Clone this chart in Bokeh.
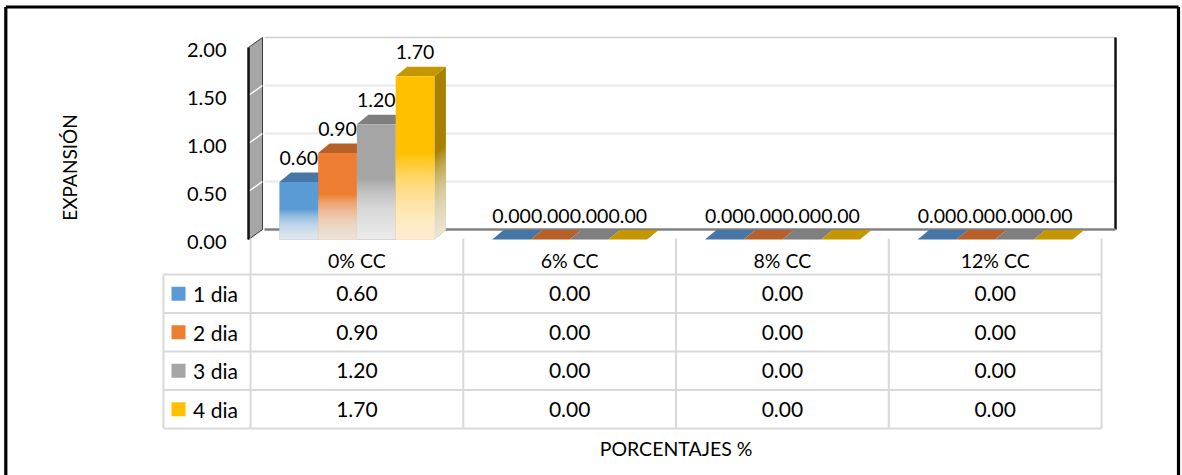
import math
from bokeh.plotting import figure
from bokeh.models import Range1d, ColumnDataSource
from bokeh.core.properties import value
from bokeh.embed import file_html
from bokeh.resources import INLINE

# ---------------- data ----------------
categories = ["0% CC", "6% CC", "8% CC", "12% CC"]
series_names = ["1 dia", "2 dia", "3 dia", "4 dia"]
dia_1 = [0.60, 0.00, 0.00, 0.00]
dia_2 = [0.90, 0.00, 0.00, 0.00]
dia_3 = [1.20, 0.00, 0.00, 0.00]
dia_4 = [1.70, 0.00, 0.00, 0.00]
y_ticks = [0.0, 0.5, 1.0, 1.5, 2.0]
y_title = "EXPANSIÓN"
x_title = "PORCENTAJES %"

series_values = [dia_1, dia_2, dia_3, dia_4]

# ---------------- style ----------------
front_colors = ["#5b9bd5", "#ed7d31", "#a5a5a5", "#ffc000"]
top_colors = ["#4676a6", "#b8602a", "#7f7f7f", "#c49600"]
side_colors = ["#3c6690", "#a0521f", "#6e6e6e", "#a88000"]
FONT = value("Lato")
TXT = "#000000"

W, H = 1182, 475
COL_PX = 212.75          # pixels per category column
VAL_PX = 96.0            # pixels per value unit
X0_PX = 356.4            # x of category 0 centre
Y0_PX = 239.0            # y of value 0 (front plane)
ROW_PX = 38.5            # table row height
ROW0_PX = 274.0          # y of first data row top

x_start = -X0_PX / COL_PX
x_end = (W - X0_PX) / COL_PX
y_top = Y0_PX / VAL_PX
y_bot = -(H - Y0_PX) / VAL_PX
t_top = -ROW0_PX / ROW_PX
t_bot = (H - ROW0_PX) / ROW_PX

DX = 14.0 / COL_PX       # wall depth
DY = 10.0 / VAL_PX
BDX = 11.5 / COL_PX      # bar depth
BDY = 9.5 / VAL_PX
BAR_W = 38.75 / COL_PX

p = figure(width=W, height=H, x_range=Range1d(x_start, x_end),
           y_range=Range1d(y_bot, y_top), output_backend="svg",
           toolbar_location=None, x_axis_location=None, y_axis_location=None,
           min_border=0, min_border_left=0, min_border_right=0,
           min_border_top=0, min_border_bottom=0)
p.extra_y_ranges = {"tbl": Range1d(start=t_bot, end=t_top)}
p.grid.visible = False
p.outline_line_color = None
p.background_fill_color = "white"
p.border_fill_color = "white"

# chart-area border (left, top, right; bottom lies outside the picture)
bx0 = x_start + 5.3 / COL_PX
bx1 = x_start + 1178.0 / COL_PX
by0 = y_top - 6.5 / VAL_PX
p.segment(x0=[bx0, bx0, bx1], x1=[bx0, bx1, bx1], y0=[y_bot, by0, by0], y1=[by0, by0, y_bot],
          line_color="black", line_width=3.2)

n_cat = len(categories)
left_edge = -0.5
right_edge = n_cat - 0.5
y_max = y_ticks[-1]

# ---------------- back wall ----------------
p.quad(left=[left_edge + DX], right=[right_edge + DX], bottom=[DY], top=[y_max + DY],
       fill_color="white", line_color=None)
grid_y = [t + DY for t in y_ticks[1:-1]]
p.segment(x0=[left_edge + DX] * len(grid_y), x1=[right_edge + DX] * len(grid_y),
          y0=grid_y, y1=grid_y, line_color="#e9e9e9", line_width=2)
p.segment(x0=[left_edge + DX], x1=[right_edge + DX], y0=[y_max + DY], y1=[y_max + DY],
          line_color="#cfcfcf", line_width=1.5)
p.segment(x0=[right_edge + DX], x1=[right_edge + DX], y0=[DY], y1=[y_max + DY],
          line_color="#111111", line_width=2.5)
p.segment(x0=[left_edge + DX], x1=[right_edge + DX], y0=[DY], y1=[DY],
          line_color="#808080", line_width=2.5)

# ---------------- side wall ----------------
wl = left_edge - 2.0 / COL_PX
p.patch(x=[wl, wl + DX, wl + DX, wl], y=[0, DY, y_max + DY, y_max],
        fill_color="#a6a6a6", line_color="#3a3a3a", line_width=1)
side_grid = y_ticks[1:-1]
p.segment(x0=[wl] * len(side_grid), x1=[wl + DX] * len(side_grid),
          y0=side_grid, y1=[t + DY for t in side_grid], line_color="white", line_width=1.5)
p.segment(x0=[wl], x1=[wl], y0=[0], y1=[y_max], line_color="#111111", line_width=2.5)

# ---------------- bars ----------------
xs, ys, fc, fa = [], [], [], []
NB = 40
alpha_layer = 1 - (1 - 0.86) ** (1.0 / NB)
for i in range(n_cat):
    for j, vals in enumerate(series_values):
        v = vals[i]
        c = i + (j - 1.5) * BAR_W
        l, r = c - BAR_W / 2, c + BAR_W / 2
        # side
        xs.append([r, r + BDX, r + BDX, r]); ys.append([0, BDY, v + BDY, v])
        fc.append(side_colors[j]); fa.append(1.0)
        # top
        xs.append([l, r, r + BDX, l + BDX]); ys.append([v, v, v + BDY, v + BDY])
        fc.append(top_colors[j]); fa.append(1.0)
        # front
        xs.append([l, r, r, l]); ys.append([0, 0, v, v])
        fc.append(front_colors[j]); fa.append(1.0)
        # fade: stacked translucent white layers on the lower half
        fh = 0.52 * v
        if v > 0:
            for k in range(NB):
                b1 = fh * (k + 1) / NB
                xs.append([l, r, r + BDX, r + BDX, r, l]); ys.append([0, 0, BDY, b1 + BDY, b1, b1])
                fc.append("white"); fa.append(alpha_layer)
bars_src = ColumnDataSource(dict(xs=xs, ys=ys, fc=fc, fa=fa))
p.patches(xs="xs", ys="ys", fill_color="fc", fill_alpha="fa", line_color=None, source=bars_src)

# data labels
lx, ly, lt = [], [], []
for i in range(n_cat):
    for j, vals in enumerate(series_values):
        lx.append(i + (j - 1.5) * BAR_W)
        ly.append(vals[i])
        lt.append(f"{vals[i]:.2f}")
p.text(x=lx, y=ly, text=lt, text_align="center", text_baseline="middle", y_offset=-24,
       text_font=FONT, text_font_size=value("19.5px"), text_color=TXT)

# y tick labels
tick_x = -0.613
p.text(x=[tick_x] * len(y_ticks), y=y_ticks, text=[f"{t:.2f}" for t in y_ticks],
       text_align="right", text_baseline="middle", y_offset=2,
       text_font=FONT, text_font_size=value("20px"), text_color=TXT)

# y title
p.text(x=[-1.351], y=[0.75], text=[y_title], angle=math.pi / 2, text_align="center",
       text_baseline="middle", text_font=FONT, text_font_size=value("19px"), text_color=TXT)

# ---------------- data table ----------------
tbl_left = -0.909
n_rows = len(series_names)
hx0, hx1, hy = [], [], []
for k in range(n_rows + 1):
    hx0.append(tbl_left); hx1.append(right_edge); hy.append(k)
p.segment(x0=hx0, x1=hx1, y0=hy, y1=hy, line_color="#d9d9d9", line_width=2, y_range_name="tbl")
vx = [i - 0.5 for i in range(n_cat + 1)]
p.segment(x0=vx, x1=vx, y0=[-0.935] * len(vx), y1=[n_rows] * len(vx),
          line_color="#d9d9d9", line_width=2, y_range_name="tbl")
p.segment(x0=[tbl_left], x1=[tbl_left], y0=[0], y1=[n_rows],
          line_color="#d9d9d9", line_width=2, y_range_name="tbl")

# header
p.text(x=list(range(n_cat)), y=[-0.36] * n_cat, text=categories, text_align="center",
       text_baseline="middle", text_font=FONT, text_font_size=value("19.5px"),
       text_color=TXT, y_range_name="tbl")
# values
cx, cy, ct = [], [], []
for j, vals in enumerate(series_values):
    for i in range(n_cat):
        cx.append(i); cy.append(j + 0.5); ct.append(f"{vals[i]:.2f}")
p.text(x=cx, y=cy, text=ct, text_align="center", text_baseline="middle",
       text_font=FONT, text_font_size=value("21px"), text_color=TXT, y_range_name="tbl")
# legend keys
p.scatter(x=[-0.8385] * n_rows, y=[j + 0.5 for j in range(n_rows)], marker="square",
          size=14, fill_color=front_colors, line_color=None, y_range_name="tbl")
p.text(x=[-0.770] * n_rows, y=[j + 0.5 for j in range(n_rows)], text=series_names,
       text_align="left", text_baseline="middle", text_font=FONT,
       text_font_size=value("21px"), text_color=TXT, y_range_name="tbl")

# x title
p.text(x=[(n_cat - 1) / 2], y=[4.52], text=[x_title], text_align="center",
       text_baseline="middle", text_font=FONT, text_font_size=value("19.5px"),
       text_color=TXT, y_range_name="tbl")

open("out.html", "w").write(file_html(p, INLINE))
